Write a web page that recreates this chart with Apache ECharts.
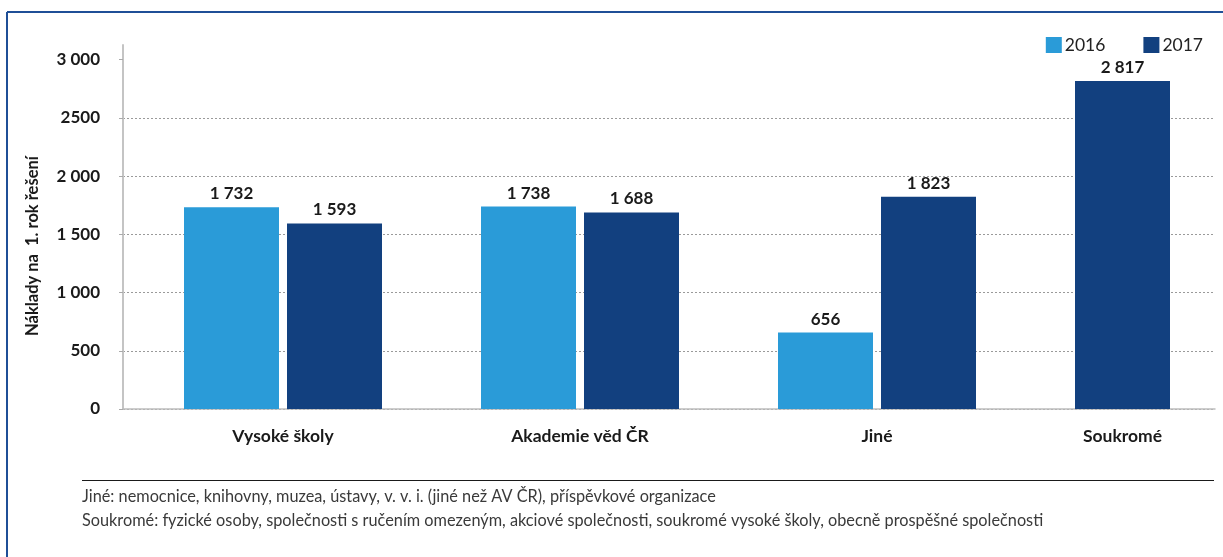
<!DOCTYPE html>
<html>
<head>
<meta charset="utf-8">
<script src="https://cdn.jsdelivr.net/npm/echarts@6/dist/echarts.min.js"></script>
<style>
html,body{margin:0;padding:0;background:#fff;}
#chart{width:1223px;height:557px;}
</style>
</head>
<body>
<div id="chart"></div>
<script>
const categories = ['Vysoké školy', 'Akademie věd ČR', 'Jiné', 'Soukromé'];
const values2016 = [1732, 1738, 656, null];
const values2017 = [1593, 1688, 1823, 2817];
const tickValues = [0, 500, 1000, 1500, 2000, 2500, 3000];
const tickLabels = ['0', '500', '1 000', '1 500', '2 000', '2500', '3 000'];
const yAxisTitle = 'Náklady na  1. rok řešení';
const footnotes = [
  'Jiné: nemocnice, knihovny, muzea, ústavy, v. v. i. (jiné než AV ČR), příspěvkové organizace',
  'Soukromé: fyzické osoby, společnosti s ručením omezeným, akciové společnosti, soukromé vysoké školy, obecně prospěšné společnosti'
];

const FONT = 'Lato, "Noto Sans", sans-serif';
const C16 = '#2a9bd8';
const C17 = '#12407f';
const BAR_W = 95;
const BAR_GAP = 8;

const fmt = v => (v == null ? '' : String(v).replace(/\B(?=(\d{3})+(?!\d))/g, ' '));

// Where a category has no 2016 value, its 2017 bar takes the first slot (as in the original)
const s2017main = values2017.map((v, i) => (values2016[i] == null ? null : v));
const s2017alone = values2017.map((v, i) => (values2016[i] == null ? v : null));

const labelStyle = {
  show: true, position: 'top', distance: 5,
  fontFamily: FONT, fontWeight: 'bold', fontSize: 17, color: '#1a1a1a',
  formatter: p => fmt(p.value)
};

const chart = echarts.init(document.getElementById('chart'), null, {renderer: 'canvas'});

chart.setOption({
  backgroundColor: '#ffffff',
  animation: false,
  legend: {
    data: ['2016', '2017'],
    right: 15, top: 31,
    itemWidth: 16, itemHeight: 16, itemGap: 38,
    icon: 'rect',
    textStyle: {fontFamily: FONT, fontSize: 17.5, color: '#222', padding: [0, 0, 0, -2]}
  },
  grid: [
    {left: 123, right: 8, top: 45, bottom: 148, outerBoundsMode: 'none'},
    {left: 134.5, right: -99.5, top: 45, bottom: 148, outerBoundsMode: 'none'}
  ],
  xAxis: [
    {
      type: 'category', gridIndex: 0, data: categories,
      axisLine: {show: true, lineStyle: {color: '#bdbdbd', width: 1.5}},
      axisTick: {show: false}, axisLabel: {show: false}, splitLine: {show: false}
    },
    {
      type: 'category', gridIndex: 1, data: categories,
      axisLine: {show: false}, axisTick: {show: false}, splitLine: {show: false},
      axisLabel: {
        interval: 0, margin: 18,
        fontFamily: FONT, fontWeight: 'bold', fontSize: 17.5, color: '#1a1a1a',
        formatter: (val, idx) => (values2016[idx] == null ? '{s|' + val + '}' : val),
        rich: {
          s: {fontFamily: FONT, fontWeight: 'bold', fontSize: 17.5, color: '#1a1a1a',
              padding: [0, BAR_W + BAR_GAP, 0, 0]}
        }
      }
    }
  ],
  yAxis: [
    {
      type: 'value', gridIndex: 0, min: 0, max: 3125, interval: 500,
      name: yAxisTitle, nameLocation: 'middle', nameGap: 82, nameRotate: 90,
      nameTextStyle: {fontFamily: FONT, fontWeight: 'bold', fontSize: 16.5, color: '#1a1a1a',
                      padding: [0, 38, 0, 0]},
      axisLine: {show: true, lineStyle: {color: '#c4c4c4', width: 2}},
      axisTick: {show: true, length: 4, customValues: tickValues, lineStyle: {color: '#aaaaaa', width: 1}},
      axisLabel: {
        showMaxLabel: false, margin: 23,
        fontFamily: FONT, fontWeight: 'bold', fontSize: 17, color: '#1a1a1a',
        formatter: v => {
          const i = tickValues.indexOf(v);
          return i >= 0 ? tickLabels[i] : '';
        }
      },
      splitLine: {show: true, showMaxLine: false, lineStyle: {color: '#9a9a9a', type: [2, 2], width: 1}}
    },
    {
      type: 'value', gridIndex: 1, min: 0, max: 3125, interval: 500,
      show: false, splitLine: {show: false}
    }
  ],
  series: [
    {
      name: '2016', type: 'bar', xAxisIndex: 1, yAxisIndex: 1, stack: 'slotA',
      data: values2016, barWidth: BAR_W, barGap: (BAR_GAP / BAR_W * 100) + '%',
      itemStyle: {color: C16}, label: labelStyle
    },
    {
      name: '2017', type: 'bar', xAxisIndex: 1, yAxisIndex: 1,
      data: s2017main, barWidth: BAR_W, barGap: (BAR_GAP / BAR_W * 100) + '%',
      itemStyle: {color: C17}, label: labelStyle
    },
    {
      name: '2017', type: 'bar', xAxisIndex: 1, yAxisIndex: 1, stack: 'slotA',
      data: s2017alone, barWidth: BAR_W,
      itemStyle: {color: C17}, label: labelStyle
    }
  ],
  graphic: [
    {type: 'line', silent: true, shape: {x1: 7, y1: 12, x2: 1223, y2: 12},
     style: {stroke: '#1f4f97', lineWidth: 2}},
    {type: 'line', silent: true, shape: {x1: 7, y1: 12, x2: 7, y2: 557},
     style: {stroke: '#1f4f97', lineWidth: 2}},
    {type: 'line', silent: true, shape: {x1: 82, y1: 480.5, x2: 1214, y2: 480.5},
     style: {stroke: '#1a1a1a', lineWidth: 1}},
    {type: 'text', silent: true, x: 82, y: 497,
     style: {text: footnotes[0], fontFamily: FONT, fontSize: 16.3, fill: '#3a3a3a', verticalAlign: 'middle'}},
    {type: 'text', silent: true, x: 82, y: 521,
     style: {text: footnotes[1], fontFamily: FONT, fontSize: 16.3, fill: '#3a3a3a', verticalAlign: 'middle'}}
  ]
});
</script>
</body>
</html>
